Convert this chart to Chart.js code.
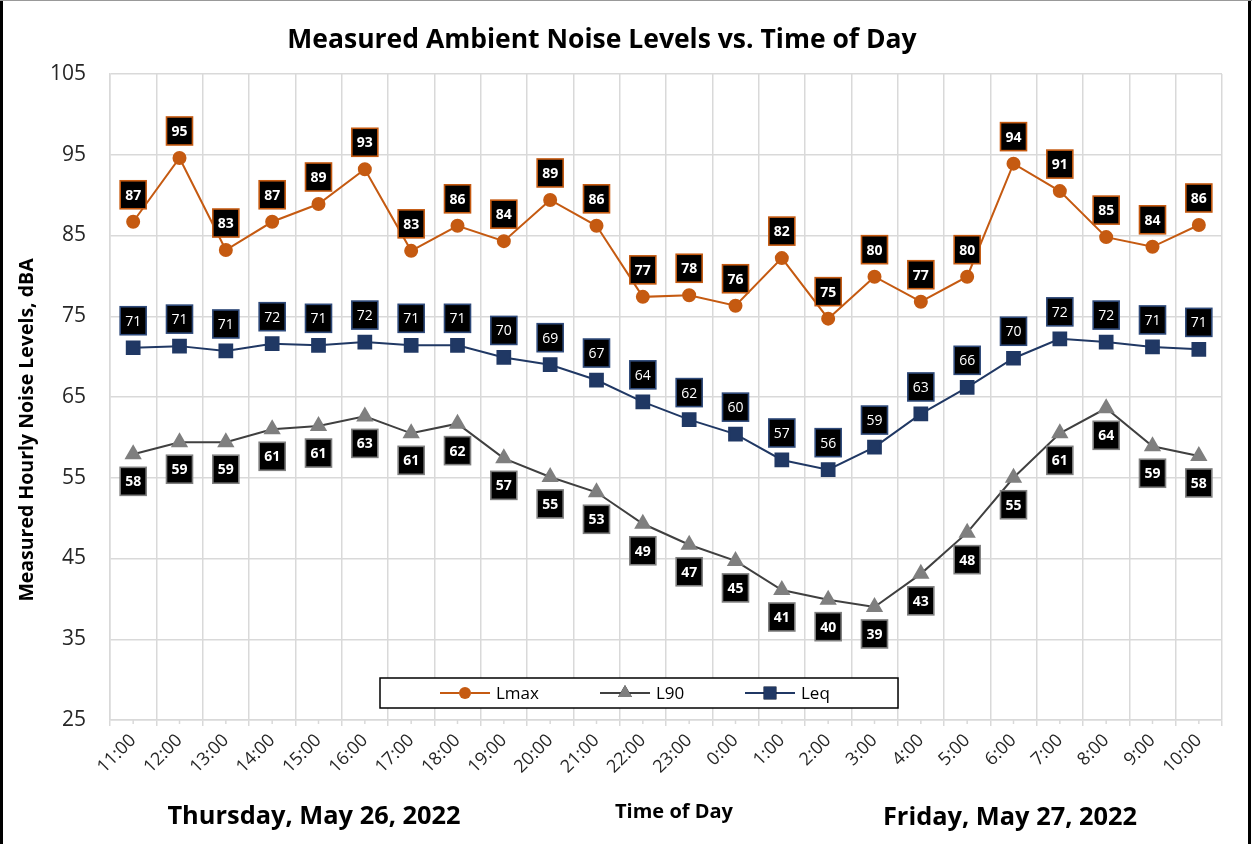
<!DOCTYPE html>
<html>
<head>
  <meta charset="UTF-8">
  <title>Measured Ambient Noise Levels vs. Time of Day</title>
  <script src="https://cdn.jsdelivr.net/npm/chart.js"></script>
  <style>
    body { margin: 0; background: #fff; }
    #wrap { position: relative; width: 1252px; height: 844px; }
  </style>
</head>
<body>
  <div id="wrap">
    <canvas id="noiseChart" width="1252" height="844"></canvas>
  </div>
  <script>
    // values
    const hours = ['11:00', '12:00', '13:00', '14:00', '15:00', '16:00', '17:00', '18:00',
      '19:00', '20:00', '21:00', '22:00', '23:00', '0:00', '1:00', '2:00', '3:00', '4:00',
      '5:00', '6:00', '7:00', '8:00', '9:00', '10:00'];
    const lmax = [86.7, 94.6, 83.2, 86.7, 88.9, 93.2, 83.1, 86.2, 84.3, 89.4, 86.2, 77.4,
      77.6, 76.3, 82.2, 74.7, 79.9, 76.8, 79.9, 93.9, 90.5, 84.8, 83.6, 86.3];
    const l90 = [57.9, 59.4, 59.4, 61.0, 61.4, 62.6, 60.5, 61.7, 57.4, 55.1, 53.2, 49.3,
      46.7, 44.7, 41.1, 39.9, 39.0, 43.1, 48.2, 55.0, 60.5, 63.6, 58.9, 57.7];
    const leq = [71.1, 71.3, 70.7, 71.6, 71.4, 71.8, 71.4, 71.4, 69.9, 69.0, 67.1, 64.4,
      62.2, 60.4, 57.2, 56.0, 58.8, 62.9, 66.2, 69.8, 72.2, 71.8, 71.2, 70.9];
    const yTicks = [25, 35, 45, 55, 65, 75, 85, 95, 105];

    const FONT = '"Open Sans", Lato, sans-serif';
    const ORANGE = '#c55a11';
    const NAVY = '#203864';
    const GRAY = '#7f7f7f';

    // small boxed value labels above / below each point
    const valueLabels = {
      id: 'valueLabels',
      afterDatasetsDraw(chart) {
        const ctx = chart.ctx;
        chart.data.datasets.forEach((ds, i) => {
          const meta = chart.getDatasetMeta(i);
          meta.data.forEach((pt, j) => {
            const txt = String(Math.round(ds.data[j]));
            const cx = pt.x;
            const cy = pt.y + ds.labelOffset;
            const w = 26, h = 28;
            ctx.save();
            ctx.fillStyle = '#000';
            ctx.fillRect(cx - w / 2, cy - h / 2, w, h);
            ctx.lineWidth = 1.6;
            ctx.strokeStyle = ds.labelBorder;
            ctx.strokeRect(cx - w / 2, cy - h / 2, w, h);
            ctx.fillStyle = '#fff';
            ctx.font = ds.labelWeight + ' 14px ' + FONT;
            ctx.textAlign = 'center';
            ctx.textBaseline = 'middle';
            ctx.fillText(txt, cx, cy + 1);
            ctx.restore();
          });
        });
      }
    };

    // titles, legend box, minor ticks and frame
    const decorations = {
      id: 'decorations',
      afterDraw(chart) {
        const ctx = chart.ctx;
        const area = chart.chartArea;
        const x = chart.scales.x;
        ctx.save();

        // minor tick marks at category centres
        ctx.strokeStyle = '#d9d9d9';
        ctx.lineWidth = 1.5;
        hours.forEach((h, i) => {
          const px = x.getPixelForValue(i);
          ctx.beginPath();
          ctx.moveTo(px, area.bottom);
          ctx.lineTo(px, area.bottom + 4);
          ctx.stroke();
        });

        ctx.fillStyle = '#000';
        ctx.textAlign = 'center';
        ctx.textBaseline = 'middle';
        ctx.font = 'bold 26.5px ' + FONT;
        ctx.fillText('Measured Ambient Noise Levels vs. Time of Day', 602, 40);

        ctx.font = 'bold 25.4px ' + FONT;
        ctx.fillText('Thursday, May 26, 2022', 314, 817);
        ctx.fillText('Friday, May 27, 2022', 1010, 818);
        ctx.font = 'bold 20px ' + FONT;
        ctx.fillText('Time of Day', 674, 812);

        ctx.save();
        ctx.translate(27, 430);
        ctx.rotate(-Math.PI / 2);
        ctx.font = 'bold 19.5px ' + FONT;
        ctx.fillText('Measured Hourly Noise Levels, dBA', 0, 0);
        ctx.restore();

        // legend
        ctx.fillStyle = '#fff';
        ctx.fillRect(380, 678, 518, 30);
        ctx.strokeStyle = '#000';
        ctx.lineWidth = 1.5;
        ctx.strokeRect(380, 678, 518, 30);
        chart.data.datasets.forEach((ds, i) => {
          const lx = [440, 600, 745][i];
          const ly = 693;
          ctx.strokeStyle = ds.borderColor;
          ctx.lineWidth = 2;
          ctx.beginPath();
          ctx.moveTo(lx, ly);
          ctx.lineTo(lx + 50, ly);
          ctx.stroke();
          Chart.helpers.drawPoint(ctx, {
            pointStyle: ds.pointStyle,
            radius: ds.pointRadius,
            borderWidth: 0
          }, lx + 25, ly);
          ctx.fillStyle = ds.pointBackgroundColor;
          ctx.fill();
          ctx.fillStyle = '#000';
          ctx.font = '17px ' + FONT;
          ctx.textAlign = 'left';
          ctx.fillText(ds.label, lx + 56, ly + 1);
        });

        // outer frame
        ctx.fillStyle = '#000';
        ctx.fillRect(0, 0, 3, 844);
        ctx.fillRect(1248, 0, 3, 844);
        ctx.fillStyle = '#999';
        ctx.fillRect(0, 0, 1252, 1);
        ctx.restore();
      }
    };

    new Chart(document.getElementById('noiseChart'), {
      type: 'line',
      data: {
        labels: hours,
        datasets: [
          {
            label: 'Lmax',
            data: lmax,
            borderColor: ORANGE,
            backgroundColor: ORANGE,
            pointBackgroundColor: ORANGE,
            pointBorderColor: ORANGE,
            pointStyle: 'circle',
            pointRadius: 6,
            borderWidth: 2,
            labelOffset: -27,
            labelBorder: ORANGE,
            labelWeight: 'bold'
          },
          {
            label: 'L90',
            data: l90,
            borderColor: '#404040',
            backgroundColor: GRAY,
            pointBackgroundColor: GRAY,
            pointBorderColor: GRAY,
            pointStyle: 'triangle',
            pointRadius: 8,
            borderWidth: 2,
            labelOffset: 27,
            labelBorder: GRAY,
            labelWeight: 'bold'
          },
          {
            label: 'Leq',
            data: leq,
            borderColor: NAVY,
            backgroundColor: NAVY,
            pointBackgroundColor: NAVY,
            pointBorderColor: NAVY,
            pointStyle: 'rect',
            pointRadius: 9,
            borderWidth: 2,
            labelOffset: -27,
            labelBorder: '#2f4a7a',
            labelWeight: 'normal'
          }
        ]
      },
      options: {
        responsive: false,
        animation: false,
        layout: { padding: { top: 74, right: 30, bottom: 0, left: 0 } },
        plugins: {
          legend: { display: false },
          title: { display: false },
          tooltip: { enabled: false }
        },
        scales: {
          x: {
            offset: true,
            grid: { offset: true, color: '#d9d9d9', lineWidth: 1.5, tickLength: 6 },
            border: { color: '#d9d9d9', width: 1.5 },
            ticks: {
              minRotation: 45,
              maxRotation: 45,
              padding: 4,
              color: '#262626',
              font: { family: FONT, size: 18 }
            },
            afterFit(scale) { scale.height = 124; }
          },
          y: {
            min: 25,
            max: 105,
            afterBuildTicks(scale) { scale.ticks = yTicks.map(v => ({ value: v })); },
            grid: { color: '#d9d9d9', lineWidth: 1.5, drawTicks: false },
            border: { color: '#d9d9d9', width: 1.5 },
            ticks: {
              padding: 24,
              color: '#262626',
              font: { family: FONT, size: 21 }
            },
            afterFit(scale) { scale.width = 110; }
          }
        }
      },
      plugins: [valueLabels, decorations]
    });
  </script>
</body>
</html>
